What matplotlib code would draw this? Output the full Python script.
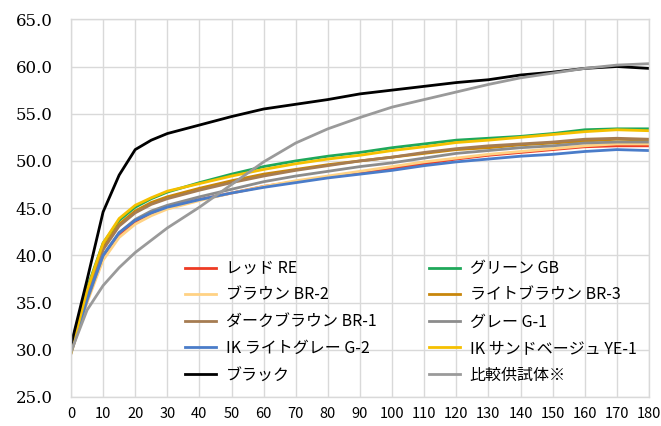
import numpy as np
import matplotlib
matplotlib.use("Agg")
import matplotlib.pyplot as plt

plt.rcParams['font.family'] = ['Noto Sans CJK JP', 'DejaVu Sans']

# days
x = [0, 5, 10, 15, 20, 25, 30, 40, 50, 60, 70, 80, 90, 100, 110, 120, 130, 140, 150, 160, 170, 180]

red_re = [29.7, 35.2, 39.8, 42.2, 43.5, 44.4, 45.1, 45.9, 46.6, 47.3, 47.8, 48.3, 48.8, 49.2, 49.7, 50.2, 50.6, 50.9, 51.2, 51.5, 51.6, 51.6]
green_gb = [30.5, 36.5, 41.3, 43.7, 45.1, 46.0, 46.7, 47.7, 48.6, 49.4, 50.0, 50.5, 50.9, 51.4, 51.8, 52.2, 52.4, 52.6, 52.9, 53.3, 53.4, 53.4]
brown_br2 = [29.6, 35.0, 39.5, 41.9, 43.3, 44.2, 44.9, 45.8, 46.6, 47.3, 47.9, 48.4, 48.9, 49.4, 49.9, 50.3, 50.7, 51.0, 51.3, 51.6, 51.8, 51.8]
lbrown_br3 = [29.8, 36.0, 40.8, 43.3, 44.7, 45.6, 46.2, 47.1, 47.9, 48.6, 49.1, 49.6, 50.0, 50.4, 50.8, 51.2, 51.4, 51.7, 51.9, 52.1, 52.3, 52.2]
dbrown_br1 = [29.9, 35.8, 40.6, 43.1, 44.5, 45.4, 46.0, 46.9, 47.7, 48.4, 49.0, 49.5, 50.0, 50.4, 50.9, 51.3, 51.6, 51.8, 52.0, 52.3, 52.4, 52.3]
gray_g1 = [29.6, 35.2, 40.0, 42.4, 43.8, 44.7, 45.3, 46.2, 47.0, 47.8, 48.4, 48.9, 49.4, 49.8, 50.3, 50.8, 51.1, 51.4, 51.6, 51.9, 52.0, 52.0]
lgray_g2 = [29.8, 35.4, 40.0, 42.4, 43.7, 44.5, 45.1, 45.9, 46.6, 47.2, 47.7, 48.2, 48.6, 49.0, 49.5, 49.9, 50.2, 50.5, 50.7, 51.0, 51.2, 51.1]
beige_ye1 = [29.7, 36.3, 41.3, 43.9, 45.3, 46.1, 46.8, 47.6, 48.4, 49.1, 49.7, 50.2, 50.6, 51.1, 51.5, 51.95, 52.2, 52.5, 52.8, 53.1, 53.3, 53.2]
black = [30.5, 37.4, 44.6, 48.5, 51.2, 52.2, 52.9, 53.8, 54.7, 55.5, 56.0, 56.5, 57.1, 57.5, 57.9, 58.3, 58.6, 59.1, 59.4, 59.8, 60.0, 59.8]
hikaku = [29.8, 34.2, 36.8, 38.7, 40.3, 41.6, 42.9, 45.1, 47.5, 49.9, 51.9, 53.4, 54.6, 55.7, 56.5, 57.3, 58.1, 58.8, 59.3, 59.8, 60.15, 60.3]

series = [
    ("レッド RE", red_re, "#EE3B24"),
    ("グリーン GB", green_gb, "#1FA85A"),
    ("ブラウン BR-2", brown_br2, "#FFD284"),
    ("ライトブラウン BR-3", lbrown_br3, "#C8860B"),
    ("ダークブラウン BR-1", dbrown_br1, "#A67C52"),
    ("グレー G-1", gray_g1, "#8C8C8C"),
    ("IK ライトグレー G-2", lgray_g2, "#4A7CC9"),
    ("IK サンドベージュ YE-1", beige_ye1, "#F5C000"),
    ("ブラック", black, "#000000"),
    ("比較供試体※", hikaku, "#9A9A9A"),
]

fig = plt.figure(figsize=(6.61, 4.26), dpi=100)
ax = fig.add_axes([0.1074, 0.0681, 0.8744, 0.8866])

lines = {}
for name, vals, col in series:
    ln, = ax.plot(x, vals, color=col, lw=2, label=name)
    lines[name] = ln

ax.set_xlim(0, 180)
ax.set_ylim(25, 65)
xt = np.arange(0, 181, 10)
ax.set_xticks(xt)
ax.set_xticklabels([str(v) for v in xt], fontsize=10.5)
yt = np.arange(25, 65.1, 5)
ax.set_yticks(yt)
ax.set_yticklabels(["%.1f" % v for v in yt], family="DejaVu Serif", fontsize=12)
ax.tick_params(axis='x', length=0, pad=7)
ax.tick_params(axis='y', length=0, pad=13)
ax.grid(True, color="#D9D9D9", lw=1)
ax.set_axisbelow(True)
for s in ax.spines.values():
    s.set_color("#D9D9D9")
    s.set_linewidth(1)

# row-wise order like Excel -> columns for matplotlib
col1 = ["レッド RE", "ブラウン BR-2", "ダークブラウン BR-1", "IK ライトグレー G-2", "ブラック"]
col2 = ["グリーン GB", "ライトブラウン BR-3", "グレー G-1", "IK サンドベージュ YE-1", "比較供試体※"]
order = col1 + col2
ax.legend([lines[n] for n in order], order, ncol=2, frameon=False,
          loc="upper left", bbox_to_anchor=(0.197, 0.362), borderaxespad=0, borderpad=0,
          fontsize=11.5, handlelength=1.95, handletextpad=0.6, columnspacing=3.3, labelspacing=0.6)

fig.savefig("out.png", dpi=100)
